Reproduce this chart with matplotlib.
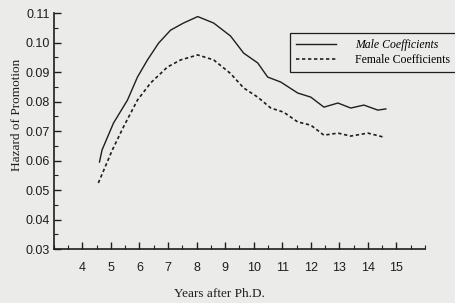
import matplotlib
matplotlib.use("Agg")
import matplotlib.pyplot as plt
from matplotlib.ticker import MultipleLocator
from matplotlib.lines import Line2D

# values
male_years = [4.60, 4.69, 5.09, 5.58, 5.93, 6.28, 6.67, 7.09, 7.54, 8.04, 8.60, 9.19,
              9.65, 10.14, 10.49, 10.95, 11.54, 12.0, 12.46, 12.95, 13.40, 13.86, 14.35, 14.63]
male_hazard = [0.0595, 0.0636, 0.0727, 0.0805, 0.0883, 0.0941, 0.0998, 0.1042, 0.1066,
               0.1088, 0.1066, 0.1022, 0.0964, 0.0931, 0.0883, 0.0866, 0.0829, 0.0815,
               0.0781, 0.0795, 0.0778, 0.0788, 0.0771, 0.0775]

female_years = [4.56, 5.05, 5.44, 5.93, 6.39, 6.98, 7.44, 8.04, 8.60, 9.19, 9.65,
                10.14, 10.6, 11.05, 11.54, 12.0, 12.46, 12.95, 13.40, 14.0, 14.53]
female_hazard = [0.0524, 0.0636, 0.0714, 0.0805, 0.0863, 0.0917, 0.0941, 0.0958, 0.0941,
                 0.0895, 0.0846, 0.0815, 0.0778, 0.0764, 0.0731, 0.0720, 0.0686, 0.0693,
                 0.0683, 0.0693, 0.0680]

year_ticks = list(range(4, 16))

bg = "#ebebe9"
ink = "#1e1e1e"

fig = plt.figure(figsize=(4.56, 3.03), dpi=100, facecolor=bg)
ax = fig.add_axes([0.118, 0.178, 0.814, 0.779], facecolor=bg)

ax.plot(male_years, male_hazard, color=ink, lw=1.0)
ax.plot(female_years, female_hazard, color=ink, lw=1.2, ls=(0, (2, 1.6)))

ax.set_xlim(3, 16)
ax.set_ylim(0.03, 0.11)
ax.set_xticks(year_ticks)
ax.xaxis.set_minor_locator(MultipleLocator(0.5))
ax.yaxis.set_major_locator(MultipleLocator(0.01))
ax.yaxis.set_minor_locator(MultipleLocator(0.005))
ax.yaxis.set_major_formatter(plt.FuncFormatter(lambda v, p: f"{v:.2f}"))

for s in ["top", "right"]:
    ax.spines[s].set_visible(False)
for s in ["left", "bottom"]:
    ax.spines[s].set_color(ink)
    ax.spines[s].set_linewidth(1.2)

ax.tick_params(which="major", direction="in", length=5, width=1.0, color=ink,
               labelsize=9, labelcolor=ink, labelfontfamily="Liberation Sans")
ax.tick_params(which="minor", direction="in", length=3, width=0.8, color=ink)
ax.tick_params(axis="x", pad=9)
ax.tick_params(axis="y", pad=3)

ax.set_xlabel("Years after Ph.D.", family="Liberation Serif", fontsize=9.5, color=ink)
ax.set_ylabel("Hazard of Promotion", family="Liberation Serif", fontsize=9.5, color=ink)
ax.xaxis.set_label_coords(0.447, -0.165)
ax.yaxis.set_label_coords(-0.083, 0.57)

handles = [Line2D([], [], color=ink, lw=1.0),
           Line2D([], [], color=ink, lw=1.2, ls=(0, (2, 1.6)))]
leg = ax.legend(handles, ["Male Coefficients", "Female Coefficients"],
                loc="upper left", bbox_to_anchor=(0.62, 0.94), frameon=True,
                fancybox=False, edgecolor=ink, facecolor=bg, framealpha=1,
                prop={"family": "Liberation Serif", "size": 8.5},
                handlelength=3.4, handletextpad=1.6, borderpad=0.5, labelspacing=0.25)
leg.get_frame().set_linewidth(0.9)
leg.get_texts()[0].set_style("italic")

fig.savefig("out.png", dpi=100, facecolor=bg)
